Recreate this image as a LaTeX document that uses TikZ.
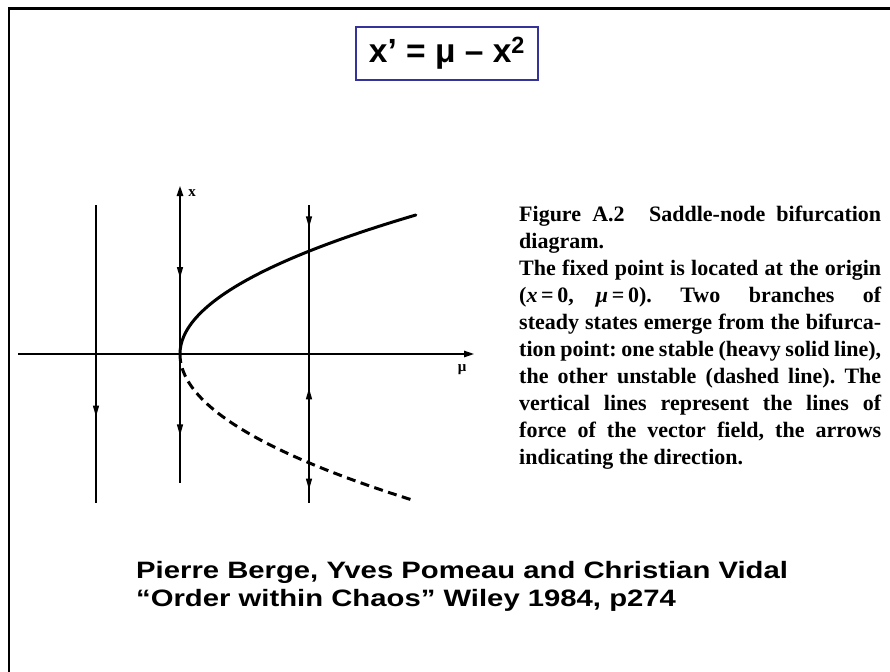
\documentclass[tikz,border=0pt]{standalone}
\usepackage{fontspec}
\setmainfont{Liberation Serif}
\newfontfamily\slidefont{Liberation Sans}
\newfontfamily\citefont[FakeStretch=1.235]{Liberation Sans}
\usetikzlibrary{arrows.meta,decorations.markings}
\definecolor{titleBlue}{RGB}{51,51,153}
\tikzset{
    every node/.append style={inner sep=0pt},
    frame/.style={line width=2.4pt},
    titlebox/.style={rectangle,draw=titleBlue,line width=2.6pt,minimum width=182pt,
        minimum height=53pt,font=\slidefont\bfseries\fontsize{33.5}{38}\selectfont},
    vline/.style={line width=1.3pt},
    axis/.style={line width=1.3pt,-{Triangle[length=10pt,width=6.5pt]}},
    dnarr/.style={postaction={decorate,decoration={markings,
        mark=at position #1 with {\arrow{Triangle[length=11pt,width=6pt]}}}}},
    uparr/.style={postaction={decorate,decoration={markings,
        mark=at position #1 with {\arrowreversed{Triangle[length=11pt,width=6pt]}}}}},
    stable/.style={line width=3pt,line cap=round},
    unstable/.style={line width=3pt,dash pattern=on 9pt off 5.5pt},
    axlbl/.style={font=\bfseries\fontsize{15}{17}\selectfont},
    caption/.style={text width=362pt,align=justify,font=\bfseries\fontsize{22}{27}\selectfont},
    cite/.style={align=left,font=\citefont\bfseries\fontsize{23.7}{28.5}\selectfont}
}
\begin{document}
\frenchspacing
\begin{tikzpicture}[x=1pt,y=-1pt]
    \useasboundingbox (0,0) rectangle (890,671);
    \draw[frame] (9,690) |- (910,8.5);

    \node[titlebox] (title) at (447,53.5) {x’ = μ – x\textsuperscript{2}};

    \coordinate (O) at (180,354);
    \coordinate (muL) at (18,354);
    \coordinate (muR) at (474,354);
    \coordinate (xT) at (180,186);
    \coordinate (xB) at (180,483);
    \coordinate (aT) at (96,205);
    \coordinate (aB) at (96,503);
    \coordinate (bT) at (309,205);
    \coordinate (bB) at (309,503);

    \draw[axis] (muL) -- (muR);
    \draw[vline,{Triangle[length=10pt,width=6.5pt]}-,dnarr=0.31,dnarr=0.84] (xT) -- (xB);
    \draw[vline,dnarr=0.71] (aT) -- (aB);
    \draw[vline,dnarr=0.075,uparr=0.615,dnarr=0.955] (bT) -- (bB);

    \draw[stable] plot[domain=0:139,samples=80,smooth] ({180+0.0122*\x*\x},{354-\x});
    \draw[unstable] plot[domain=0:146,samples=80,smooth] ({180+0.0109*\x*\x},{354+\x});

    \node[axlbl] (xlbl) at (192,193) {x};
    \node[axlbl] (mulbl) at (462,370) {μ};

    \node[caption,anchor=north west] (caption) at (519,206) {Figure A.2\hspace{0.6em} Saddle-node bifurcation\linebreak
        diagram.\newline
        The fixed point is located at the origin\linebreak
        (\textit{x}\,=\,0,\quad\textit{μ}\,=\,0). Two branches of\linebreak
        steady states emerge from the bifurca-\linebreak
        tion point: one stable (heavy solid line),\linebreak
        the other unstable (dashed line). The\linebreak
        vertical lines represent the lines of\linebreak
        force of the vector field, the arrows\linebreak
        indicating the direction.};

    \node[cite,anchor=north west] (cite) at (136,561) {Pierre Berge, Yves Pomeau and Christian Vidal\\
        “Order within Chaos” Wiley 1984, p274};
\end{tikzpicture}
\end{document}
